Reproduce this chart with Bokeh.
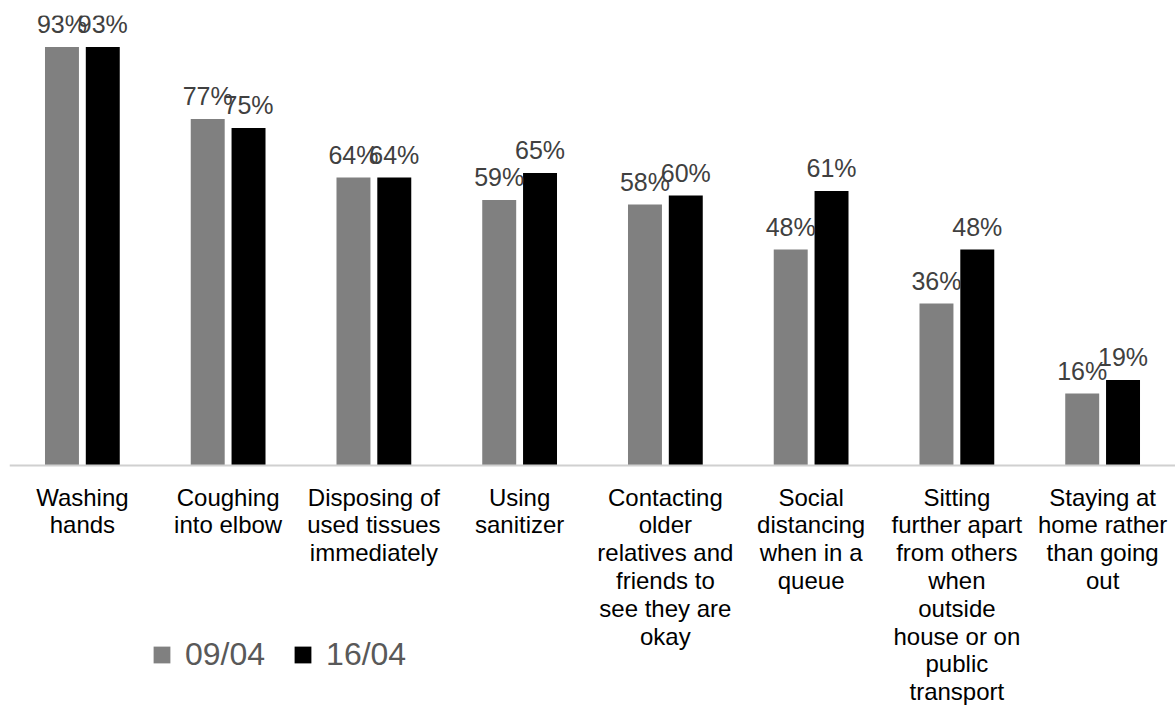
from bokeh.plotting import figure
from bokeh.models import ColumnDataSource, FactorRange, Legend, LegendItem, Span
from bokeh.transform import dodge
from bokeh.core.properties import value
from bokeh.embed import file_html
from bokeh.resources import INLINE

# Behaviours, wrapped onto several lines as printed under the baseline
categories = [
    "Washing\nhands",
    "Coughing\ninto elbow",
    "Disposing of\nused tissues\nimmediately",
    "Using\nsanitizer",
    "Contacting\nolder\nrelatives and\nfriends to\nsee they are\nokay",
    "Social\ndistancing\nwhen in a\nqueue",
    "Sitting\nfurther apart\nfrom others\nwhen\noutside\nhouse or on\npublic\ntransport",
    "Staying at\nhome rather\nthan going\nout",
]

series_names = ["09/04", "16/04"]
wave_0904 = [93, 77, 64, 59, 58, 48, 36, 16]
wave_1604 = [93, 75, 64, 65, 60, 61, 48, 19]

source = ColumnDataSource(data=dict(
    cat=categories,
    w1=wave_0904,
    w2=wave_1604,
    w1_lbl=[f"{v}%" for v in wave_0904],
    w2_lbl=[f"{v}%" for v in wave_1604],
    base=[0] * len(categories),
))

FONT = "Liberation Sans"
GREY = "#808080"
BLACK = "#000000"

# the plotting area runs below zero so the category texts and legend sit inside it
p = figure(
    x_range=FactorRange(*categories, range_padding=0),
    y_range=(-54, 100),
    width=1175, height=708,
    output_backend="svg", toolbar_location=None,
    min_border_left=9, min_border_right=0, min_border_top=15, min_border_bottom=0,
)

bw = 0.233
r1 = p.vbar(x=dodge("cat", -0.14, range=p.x_range), top="w1", width=bw, bottom=0,
            source=source, fill_color=GREY, line_color=None)
r2 = p.vbar(x=dodge("cat", 0.14, range=p.x_range), top="w2", width=bw, bottom=0,
            source=source, fill_color=BLACK, line_color=None)

# value labels above each bar
for col, off in (("w1", -0.14), ("w2", 0.14)):
    p.text(x=dodge("cat", off, range=p.x_range), y=col, text=col + "_lbl", source=source,
           text_font=value(FONT), text_font_size="25px", text_color="#404040",
           text_align="center", text_baseline="alphabetic", y_offset=-23)

# baseline along zero
p.add_layout(Span(location=0, dimension="width", line_color="#d0d0d0", line_width=2))

# category names under the baseline
p.text(x="cat", y="base", text="cat", source=source,
       text_font=value(FONT), text_font_size="24px", text_color="#000000",
       text_align="center", text_baseline="top", text_line_height=1.03, y_offset=18)

p.xaxis.visible = False
p.yaxis.visible = False
p.xgrid.visible = False
p.ygrid.visible = False
p.outline_line_color = None
p.background_fill_color = "white"
p.border_fill_color = "white"

legend = Legend(
    items=[LegendItem(label=series_names[0], renderers=[r1]),
           LegendItem(label=series_names[1], renderers=[r2])],
    orientation="horizontal",
    location=(142, 35),
    glyph_width=21, glyph_height=21,
    label_standoff=13, spacing=27,
    padding=0, margin=0,
    border_line_color=None, background_fill_alpha=0,
    label_text_font=FONT, label_text_font_size="32px", label_text_color="#595959",
)
p.add_layout(legend, "center")

open("out.html", "w").write(file_html(p, INLINE))
